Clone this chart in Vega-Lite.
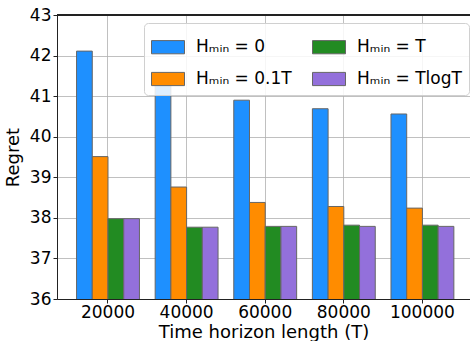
{
  "$schema": "https://vega.github.io/schema/vega-lite/v6.json",
  "width": 413,
  "height": 284,
  "autosize": {"type": "none"},
  "padding": {"left": 57, "top": 15, "right": 0, "bottom": 42},
  "config": {
    "font": "DejaVu Sans",
    "view": {"stroke": null},
    "axis": {"labelFont": "DejaVu Sans", "titleFont": "DejaVu Sans", "labelColor": "#000", "titleColor": "#000", "titleFontWeight": "normal", "labelFontSize": 17, "titleFontSize": 18, "domainColor": "#222", "tickColor": "#222", "gridColor": "#b0b0b0", "gridWidth": 0.8, "tickSize": 4, "domainWidth": 1}
  },
  "data": {"values": [
    {"T": "20000", "s": "Hₘᵢₙ = 0", "o": 0, "v": 42.11},
    {"T": "20000", "s": "Hₘᵢₙ = 0.1T", "o": 1, "v": 39.51},
    {"T": "20000", "s": "Hₘᵢₙ = T", "o": 2, "v": 37.98},
    {"T": "20000", "s": "Hₘᵢₙ = TlogT", "o": 3, "v": 37.98},
    {"T": "40000", "s": "Hₘᵢₙ = 0", "o": 0, "v": 41.30},
    {"T": "40000", "s": "Hₘᵢₙ = 0.1T", "o": 1, "v": 38.76},
    {"T": "40000", "s": "Hₘᵢₙ = T", "o": 2, "v": 37.77},
    {"T": "40000", "s": "Hₘᵢₙ = TlogT", "o": 3, "v": 37.77},
    {"T": "60000", "s": "Hₘᵢₙ = 0", "o": 0, "v": 40.90},
    {"T": "60000", "s": "Hₘᵢₙ = 0.1T", "o": 1, "v": 38.38},
    {"T": "60000", "s": "Hₘᵢₙ = T", "o": 2, "v": 37.79},
    {"T": "60000", "s": "Hₘᵢₙ = TlogT", "o": 3, "v": 37.79},
    {"T": "80000", "s": "Hₘᵢₙ = 0", "o": 0, "v": 40.69},
    {"T": "80000", "s": "Hₘᵢₙ = 0.1T", "o": 1, "v": 38.28},
    {"T": "80000", "s": "Hₘᵢₙ = T", "o": 2, "v": 37.82},
    {"T": "80000", "s": "Hₘᵢₙ = TlogT", "o": 3, "v": 37.79},
    {"T": "100000", "s": "Hₘᵢₙ = 0", "o": 0, "v": 40.56},
    {"T": "100000", "s": "Hₘᵢₙ = 0.1T", "o": 1, "v": 38.24},
    {"T": "100000", "s": "Hₘᵢₙ = T", "o": 2, "v": 37.82},
    {"T": "100000", "s": "Hₘᵢₙ = TlogT", "o": 3, "v": 37.79}
  ]},
  "layer": [
    {
      "mark": {"type": "bar", "stroke": "#666", "strokeWidth": 1, "clip": true},
      "encoding": {
        "x": {"field": "T", "type": "nominal", "sort": null,
          "scale": {"paddingInner": 0.2, "paddingOuter": 0.227, "align": 0.548},
          "axis": {"title": "Time horizon length (T)", "labelAngle": 0, "labelPadding": 1, "bandPosition": 0.5, "grid": true, "titlePadding": 3}},
        "xOffset": {"field": "s", "type": "nominal", "sort": {"field": "o"}, "scale": {"paddingInner": 0, "paddingOuter": 0}},
        "y": {"field": "v", "type": "quantitative",
          "scale": {"domain": [36, 43], "zero": false, "nice": false},
          "axis": {"title": "Regret", "values": [36,37,38,39,40,41,42,43], "labelPadding": 2, "titlePadding": 7, "grid": true}},
        "color": {"field": "s", "type": "nominal",
          "scale": {"domain": ["Hₘᵢₙ = 0", "Hₘᵢₙ = T", "Hₘᵢₙ = 0.1T", "Hₘᵢₙ = TlogT"], "range": ["#1E90FF", "#228B22", "#FF8C00", "#9370DB"]},
          "legend": {"title": null, "orient": "none", "legendX": 87, "legendY": 8, "columns": 2, "direction": "horizontal",
            "symbolType": "M-1,-0.4H1V0.4H-1Z", "symbolSize": 1089, "symbolStrokeColor": "#666", "symbolStrokeWidth": 1, "symbolOpacity": 1,
            "labelFontSize": 17, "labelFont": "DejaVu Sans", "labelColor": "#000", "labelOffset": 11,
            "fillColor": "rgba(255,255,255,0.85)", "strokeColor": "#d0d0d0", "cornerRadius": 4, "padding": 7, "rowPadding": 6, "columnPadding": 18}}
      }
    },
    {
      "mark": {"type": "rule", "color": "#222", "strokeWidth": 1},
      "encoding": {"y": {"datum": 43}}
    }
  ]
}
